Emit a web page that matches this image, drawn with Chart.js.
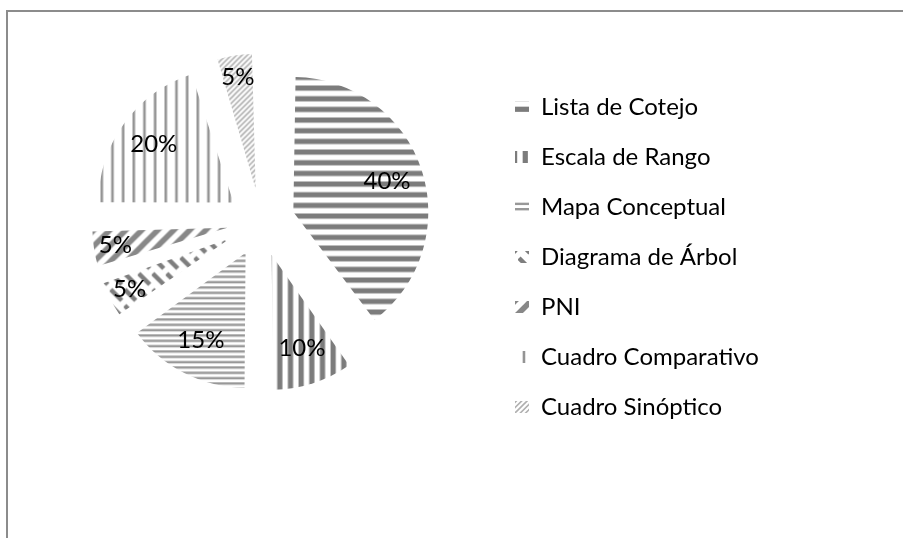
<!DOCTYPE html>
<html>
<head>
<meta charset="utf-8">
<script src="https://cdn.jsdelivr.net/npm/chart.js@4.4.1/dist/chart.umd.min.js"></script>
<style>
  html, body { margin: 0; padding: 0; background: #fff; overflow: hidden; }
  #frame { position: absolute; left: 6px; top: 10px; width: 2000px; height: 2000px; border: 2px solid #8c8c8c; }
  #chart { position: absolute; left: 0; top: 0; }
</style>
</head>
<body>
<div id="frame"></div>
<canvas id="chart" width="903" height="538"></canvas>
<script>
// Datos del gráfico
const categories = ['Lista de Cotejo', 'Escala de Rango', 'Mapa Conceptual', 'Diagrama de Árbol', 'PNI', 'Cuadro Comparativo', 'Cuadro Sinóptico'];
const shares = [40, 10, 15, 5, 5, 20, 5];

const PIE_RADIUS = 135;
const EXPLODE = 34;          // separación de cada porción, en px
const FONT = { family: 'Lato', size: 24 };
const LEGEND_PAD = 26;
const BOX_W = 14;
const CENTER_X = 261;
const LEGEND_LEFT = 489;

// Tramas en gris (como los rellenos de Excel)
function pattern(w, h, draw) {
    const c = document.createElement('canvas');
    c.width = w;
    c.height = h;
    const g = c.getContext('2d');
    g.fillStyle = '#ffffff';
    g.fillRect(0, 0, w, h);
    draw(g, w, h);
    return g.createPattern(c, 'repeat');
}

function hStripes(period, thick, color) {
    return (g, w, h) => {
        g.fillStyle = color;
        for (let y = 0; y < h; y += period) g.fillRect(0, y, w, thick);
    };
}

function vStripes(period, thick, color) {
    return (g, w, h) => {
        g.fillStyle = color;
        for (let x = 0; x < w; x += period) g.fillRect(x, 0, thick, h);
    };
}

function upDiag(period, thick, color) {
    return (g, w, h) => {
        g.strokeStyle = color;
        g.lineWidth = thick;
        for (let c = -w; c <= 2 * w; c += period) {
            g.beginPath();
            g.moveTo(c + h, -h);
            g.lineTo(c - 2 * h, 2 * h);
            g.stroke();
        }
    };
}

const patterns = [
    pattern(32, 32, hStripes(32 / 3, 5.2, '#7c7c7c')),
    pattern(32, 32, vStripes(32 / 3, 5.2, '#7c7c7c')),
    pattern(16, 16, hStripes(16 / 3, 2.4, '#989898')),
    pattern(14, 16, (g) => {
        g.strokeStyle = '#7e7e7e';
        g.lineWidth = 4.5;
        g.beginPath();
        g.moveTo(1, 2);
        g.lineTo(12, 13);
        g.stroke();
    }),
    pattern(16, 16, upDiag(16, 5.5, '#888888')),
    pattern(32, 32, vStripes(32 / 3, 2.6, '#949494')),
    pattern(16, 16, upDiag(16 / 3, 1.6, '#b0b0b0'))
];

// Ancho de la leyenda para dejar el círculo en su sitio
const measure = document.createElement('canvas').getContext('2d');
measure.font = FONT.size + 'px ' + FONT.family;
const widest = Math.max(...categories.map(t => measure.measureText(t).width));
const legendWidth = LEGEND_PAD + BOX_W + FONT.size / 2 + widest + 10;
const padLeft = 2 * CENTER_X - LEGEND_LEFT;
const padRight = Math.max(0, 903 - LEGEND_LEFT - legendWidth);

// Chart.js agranda el radio de las porciones separadas; lo devolvemos al radio fijo
const keepRadius = {
    id: 'keepRadius',
    afterDatasetUpdate(chart, args) {
        args.meta.data.forEach(arc => {
            const off = (arc.options.offset || 0) / 4;
            const grow = off * (1 - Math.sin(Math.min(Math.PI, arc.circumference)));
            arc.outerRadius = PIE_RADIUS - grow;
        });
    }
};

// Porcentajes dentro de cada porción
const sliceLabels = {
    id: 'sliceLabels',
    afterDatasetsDraw(chart) {
        const ctx = chart.ctx;
        const total = shares.reduce((a, b) => a + b, 0);
        ctx.save();
        ctx.font = FONT.size + 'px ' + FONT.family;
        ctx.fillStyle = '#000';
        ctx.textAlign = 'center';
        ctx.textBaseline = 'middle';
        chart.getDatasetMeta(0).data.forEach((arc, i) => {
            const share = shares[i] / total;
            const mid = (arc.startAngle + arc.endAngle) / 2;
            const dist = EXPLODE + PIE_RADIUS * (share < 0.08 ? 0.84 : 0.73);
            ctx.fillText(Math.round(share * 100) + '%', arc.x + Math.cos(mid) * dist, arc.y + Math.sin(mid) * dist);
        });
        ctx.restore();
    }
};

const ctx = document.getElementById('chart').getContext('2d');
new Chart(ctx, {
    type: 'pie',
    data: {
        labels: categories,
        datasets: [{
            data: shares,
            backgroundColor: patterns,
            borderWidth: 0,
            offset: EXPLODE * 4,
            hoverOffset: 0,
            radius: PIE_RADIUS
        }]
    },
    options: {
        responsive: false,
        animation: false,
        events: [],
        layout: {
            padding: { left: padLeft, right: padRight, top: -6, bottom: 93 }
        },
        plugins: {
            legend: {
                position: 'right',
                align: 'end',
                labels: {
                    color: '#000',
                    font: FONT,
                    boxWidth: BOX_W,
                    boxHeight: 12,
                    padding: LEGEND_PAD
                }
            },
            tooltip: { enabled: false }
        }
    },
    plugins: [keepRadius, sliceLabels]
});
</script>
</body>
</html>
